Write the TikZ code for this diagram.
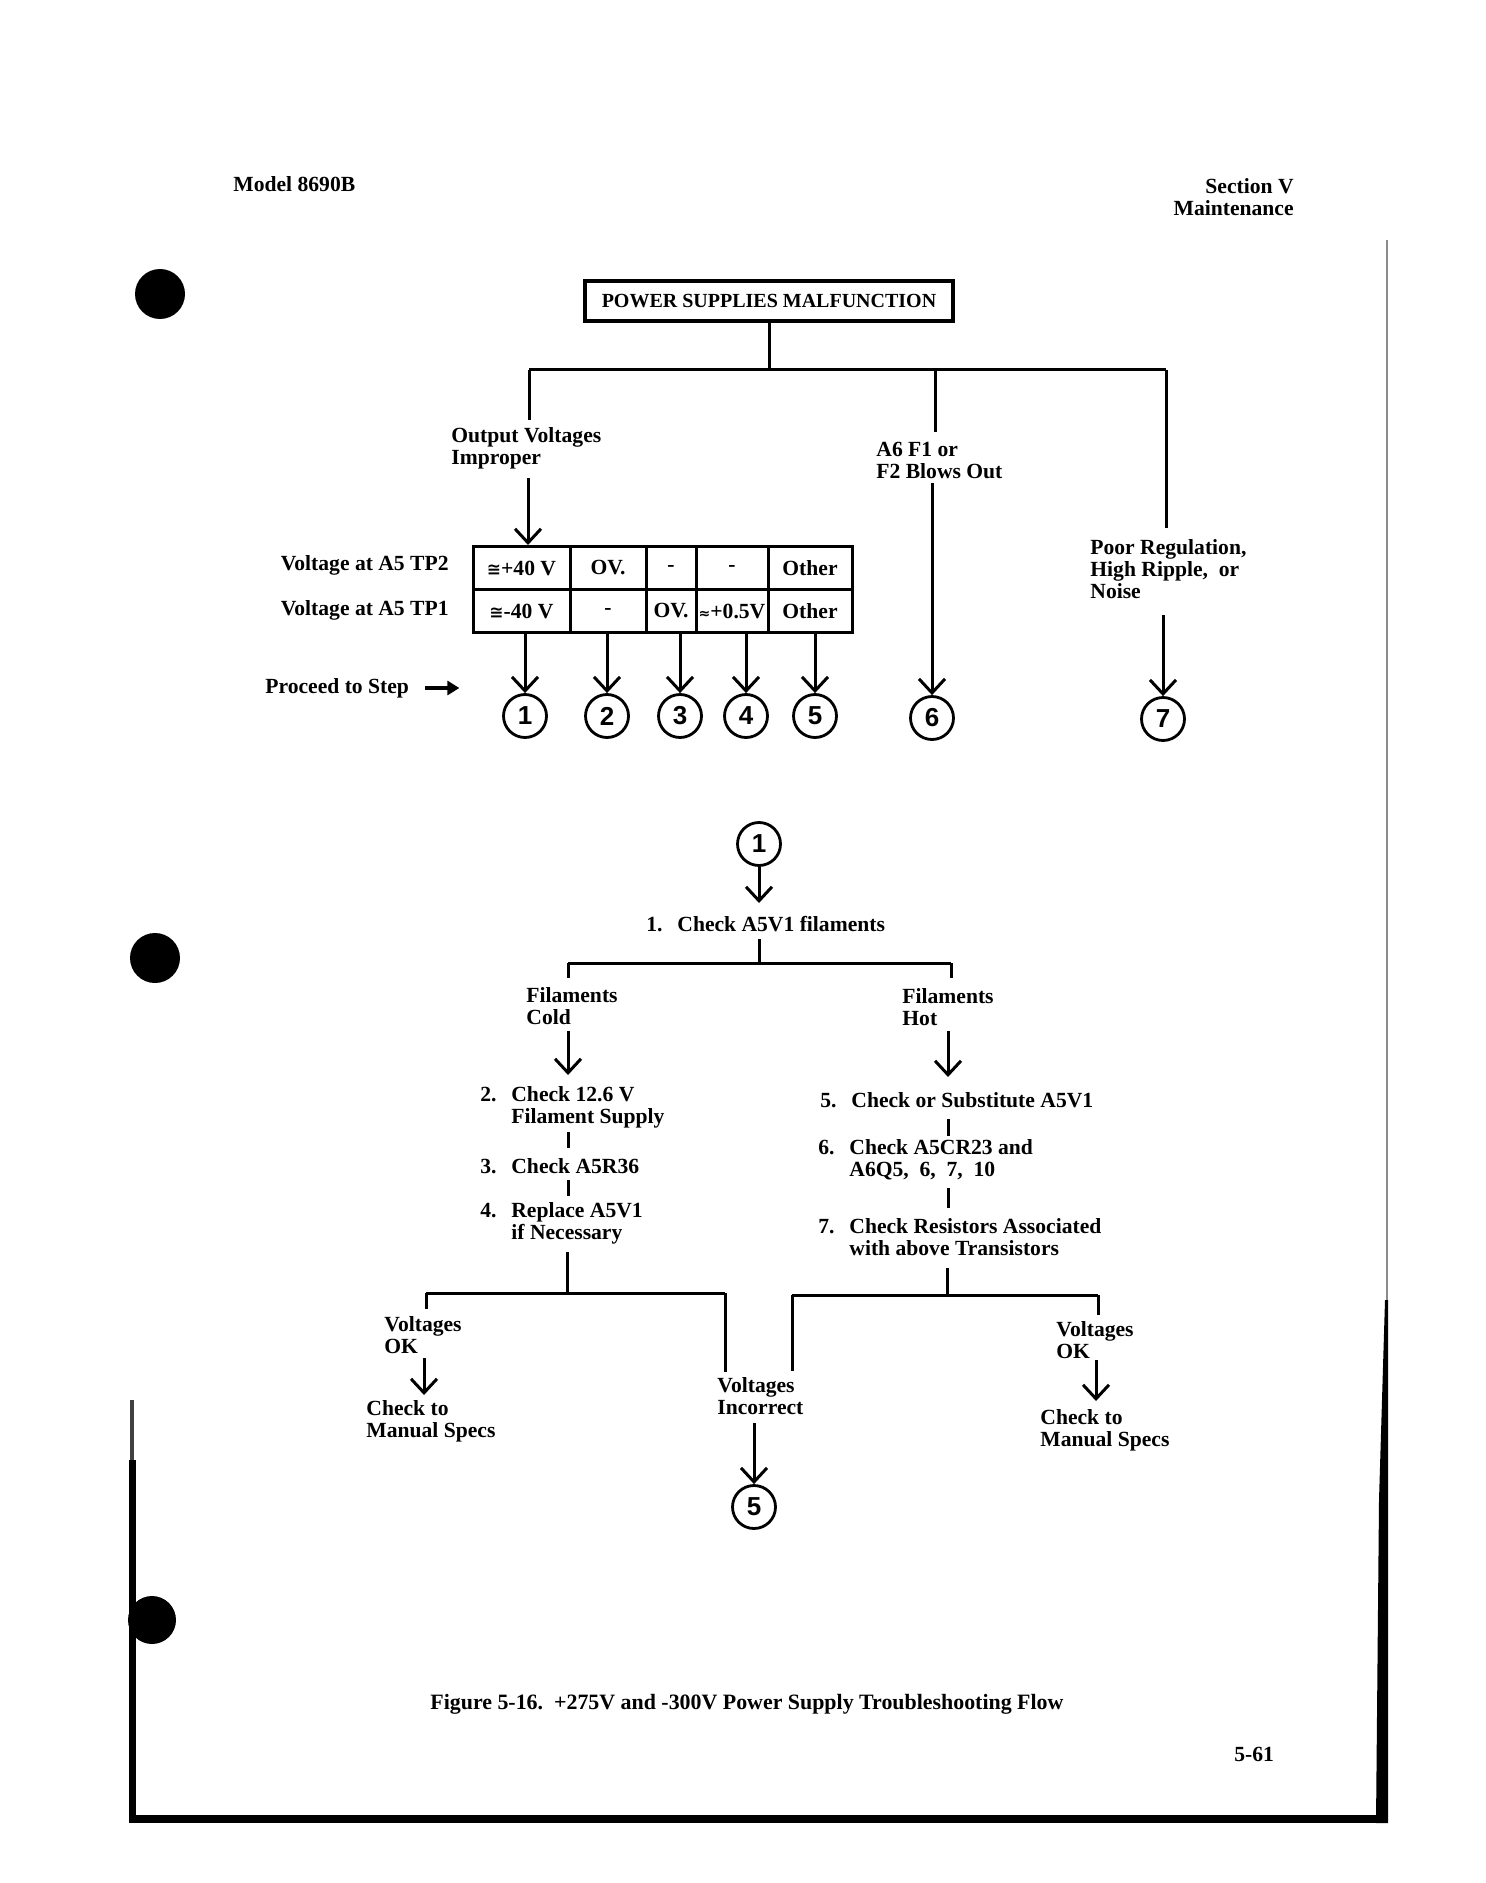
\documentclass[tikz,border=0pt]{standalone}
\usepackage{fontspec}
\setmainfont{Liberation Serif}
\newfontfamily\symf{DejaVu Sans}
\newfontfamily\numf{Liberation Sans}
\usetikzlibrary{arrows.meta}
\newcommand{\stp}[3]{\makebox[15.5pt][l]{#1}#2\ifx&#3&\else\\\hspace*{15.5pt}#3\fi}
\begin{document}
\begin{tikzpicture}[x=0.5pt,y=-0.5pt,
  ln/.style={line width=1.5pt},
  arr/.style={line width=1.5pt,-{Straight Barb[length=7pt,width=13pt]}},
  farr/.style={line width=1.8pt,-{Triangle[length=6pt,width=7pt]}},
  txt/.style={inner sep=0pt,align=left,font=\bfseries\fontsize{10.8}{11}\selectfont},
  circ/.style={circle,draw,line width=1.4pt,minimum size=21.5pt,inner sep=0pt,font=\numf\bfseries\fontsize{13}{13}\selectfont},
  cell/.style={draw,line width=1.5pt,inner sep=0pt,minimum height=21.5pt,font=\bfseries\fontsize{10.8}{11}\selectfont},
  hole/.style={fill=black}]
\useasboundingbox (0,0) rectangle (1485,1883);
% page edges and punch holes
\fill[hole] (160,294) circle (12.5pt);
\fill[hole] (155,958) circle (12.5pt);
\fill[hole] (152,1620) circle (12pt);
\fill[black!75] (130,1400) rectangle (134,1460);
\fill[black] (129,1460) rectangle (136,1823);
\fill[black] (129,1815) rectangle (1388,1823);
\fill[black!45] (1385.5,240) rectangle (1387.5,1300);
\fill[black] (1385,1300) -- (1388,1300) -- (1388,1823) -- (1376,1823) -- (1379,1500) -- cycle;
% header
\node[txt,anchor=west] (model) at (233,184) {Model 8690B};
\node[txt,anchor=east,align=right] (sect) at (1294,197) {Section V\\Maintenance};
% top box
\node[draw,line width=1.6pt,minimum width=184pt,minimum height=20pt,inner sep=0pt,
  font=\bfseries\fontsize{10}{11}\selectfont] (top) at (769,301) {POWER SUPPLIES MALFUNCTION};
\coordinate (j0) at (769,370);
\coordinate (bL) at (529,370);
\coordinate (bM) at (935,370);
\coordinate (bR) at (1166,370);
\draw[ln] (top.south) -- (j0);
\draw[ln] (bL) -- (bR);
\coordinate (eL) at (529,420);
\coordinate (eM) at (935,432);
\coordinate (eR) at (1166,528);
\draw[ln] (bL) -- (eL);
\draw[ln] (bM) -- (eM);
\draw[ln] (bR) -- (eR);
% branch labels
\node[txt,anchor=west] (ovi) at (451,448) {Output Voltages\\Improper};
\node[txt,anchor=west] (a6) at (876,460) {A6 F1 or\\F2 Blows Out};
\node[txt,anchor=west] (prn) at (1090,569) {Poor Regulation,\\High Ripple,\ \ or\\Noise};
% table
\node[cell,minimum width=48.5pt] (c11) at (521.5,568) {{\symf\fontsize{8.5}{9}\selectfont ≅}+40 V};
\node[cell,minimum width=38pt] (c12) at (608,568) {OV.};
\node[cell,minimum width=25pt] (c13) at (671,568) {-};
\node[cell,minimum width=36pt] (c14) at (732,568) {-};
\node[cell,minimum width=42pt] (c15) at (810,568) {Other};
\node[cell,minimum width=48.5pt] (c21) at (521.5,611) {{\symf\fontsize{8.5}{9}\selectfont ≅}-40 V};
\node[cell,minimum width=38pt] (c22) at (608,611) {-};
\node[cell,minimum width=25pt] (c23) at (671,611) {OV.};
\node[cell,minimum width=36pt] (c24) at (732,611) {{\symf\fontsize{7}{8}\selectfont ≈}+0.5V};
\node[cell,minimum width=42pt] (c25) at (810,611) {Other};
\node[txt,anchor=east] (tp2) at (449,565) {Voltage at A5 TP2};
\node[txt,anchor=east] (tp1) at (449,610) {Voltage at A5 TP1};
\node[txt,anchor=west] (proc) at (265,688) {Proceed to Step};
\draw[farr] ([xshift=8pt]proc.east) -- ([xshift=25pt]proc.east);
% step circles
\node[circ] (n1) at (525,716) {1};
\node[circ] (n2) at (607,716) {2};
\node[circ] (n3) at (680,716) {3};
\node[circ] (n4) at (746,716) {4};
\node[circ] (n5) at (815,716) {5};
\node[circ] (n6) at (932,718) {6};
\node[circ] (n7) at (1163,719) {7};
\coordinate (oA) at (528,478);
\draw[arr] (oA) -- (oA |- c11.north);
\draw[arr] (c21.south -| n1) -- (n1.north);
\draw[arr] (c22.south -| n2) -- (n2.north);
\draw[arr] (c23.south -| n3) -- (n3.north);
\draw[arr] (c24.south -| n4) -- (n4.north);
\draw[arr] (c25.south -| n5) -- (n5.north);
\coordinate (a6s) at (932,483);
\draw[arr] (a6s) -- (n6.north);
\coordinate (prs) at (1163,615);
\draw[arr] (prs) -- (n7.north);
% ---------- step 1 flow
\node[circ] (m1) at (759,844) {1};
\node[txt,anchor=west] (s1) at (646,924) {\stp{1.}{Check A5V1 filaments}{}};
\coordinate (s1in) at (759,903);
\draw[arr] (m1.south) -- (s1in);
\coordinate (s1out) at (759,939);
\coordinate (k0) at (759,963);
\coordinate (kL) at (568,963);
\coordinate (kR) at (951,963);
\draw[ln] (s1out) -- (k0);
\draw[ln] (kL) -- (kR);
\draw[ln] (kL) -- ++(0,15);
\draw[ln] (kR) -- ++(0,15);
\node[txt,anchor=west] (fc) at (526,1006) {Filaments\\Cold};
\node[txt,anchor=west] (fh) at (902,1007) {Filaments\\Hot};
\coordinate (fcA) at (568,1031);
\coordinate (fcB) at (568,1075);
\coordinate (fhA) at (948,1031);
\coordinate (fhB) at (948,1077);
\draw[arr] (fcA) -- (fcB);
\draw[arr] (fhA) -- (fhB);
% left steps
\node[txt,anchor=west] (s2) at (480,1107) {\stp{2.}{Check 12.6 V}{Filament Supply}};
\node[txt,anchor=west] (s3) at (480,1166) {\stp{3.}{Check A5R36}{}};
\node[txt,anchor=west] (s4) at (480,1223) {\stp{4.}{Replace A5V1}{if Necessary}};
\draw[ln] (568,1132) -- (568,1148);
\draw[ln] (568,1180) -- (568,1196);
\coordinate (l4) at (567,1252);
\coordinate (lB) at (567,1293);
\coordinate (lL) at (426,1293);
\coordinate (lR) at (725,1293);
\draw[ln] (l4) -- (lB);
\draw[ln] (lL) -- (lR);
\draw[ln] (lL) -- ++(0,16);
\draw[ln] (lR) -- ++(0,79);
\node[txt,anchor=west] (vok1) at (384,1335) {Voltages\\OK};
\coordinate (v1A) at (424,1358);
\coordinate (v1B) at (424,1395);
\draw[arr] (v1A) -- (v1B);
\node[txt,anchor=west] (cms1) at (366,1421) {Check to\\Manual Specs};
% right steps
\node[txt,anchor=west] (s5) at (820,1100) {\stp{5.}{Check or Substitute A5V1}{}};
\node[txt,anchor=west] (s6) at (818,1160) {\stp{6.}{Check A5CR23 and}{A6Q5,\ \ 6,\ \ 7,\ \ 10}};
\node[txt,anchor=west] (s7) at (818,1237) {\stp{7.}{Check Resistors Associated}{with above Transistors}};
\draw[ln] (948,1119) -- (948,1136);
\draw[ln] (948,1188) -- (948,1208);
\coordinate (r7) at (947,1268);
\coordinate (rB) at (947,1295);
\coordinate (rL) at (792,1295);
\coordinate (rR) at (1098,1295);
\draw[ln] (r7) -- (rB);
\draw[ln] (rL) -- (rR);
\draw[ln] (rL) -- ++(0,76);
\draw[ln] (rR) -- ++(0,20);
\node[txt,anchor=west] (vok2) at (1056,1340) {Voltages\\OK};
\coordinate (v2A) at (1096,1360);
\coordinate (v2B) at (1096,1401);
\draw[arr] (v2A) -- (v2B);
\node[txt,anchor=west] (cms2) at (1040,1430) {Check to\\Manual Specs};
% voltages incorrect
\node[txt,anchor=west] (vinc) at (717,1396) {Voltages\\Incorrect};
\node[circ] (m5) at (754,1507) {5};
\coordinate (viA) at (754,1423);
\draw[arr] (viA) -- (m5.north);
% caption
\node[txt,anchor=west,font=\bfseries\fontsize{10.95}{12}\selectfont] (cap) at (430,1704) {Figure 5-16.\ \ +275V and -300V Power Supply Troubleshooting Flow};
\node[txt,anchor=west] (pg) at (1234,1754) {5-61};
\end{tikzpicture}
\end{document}
